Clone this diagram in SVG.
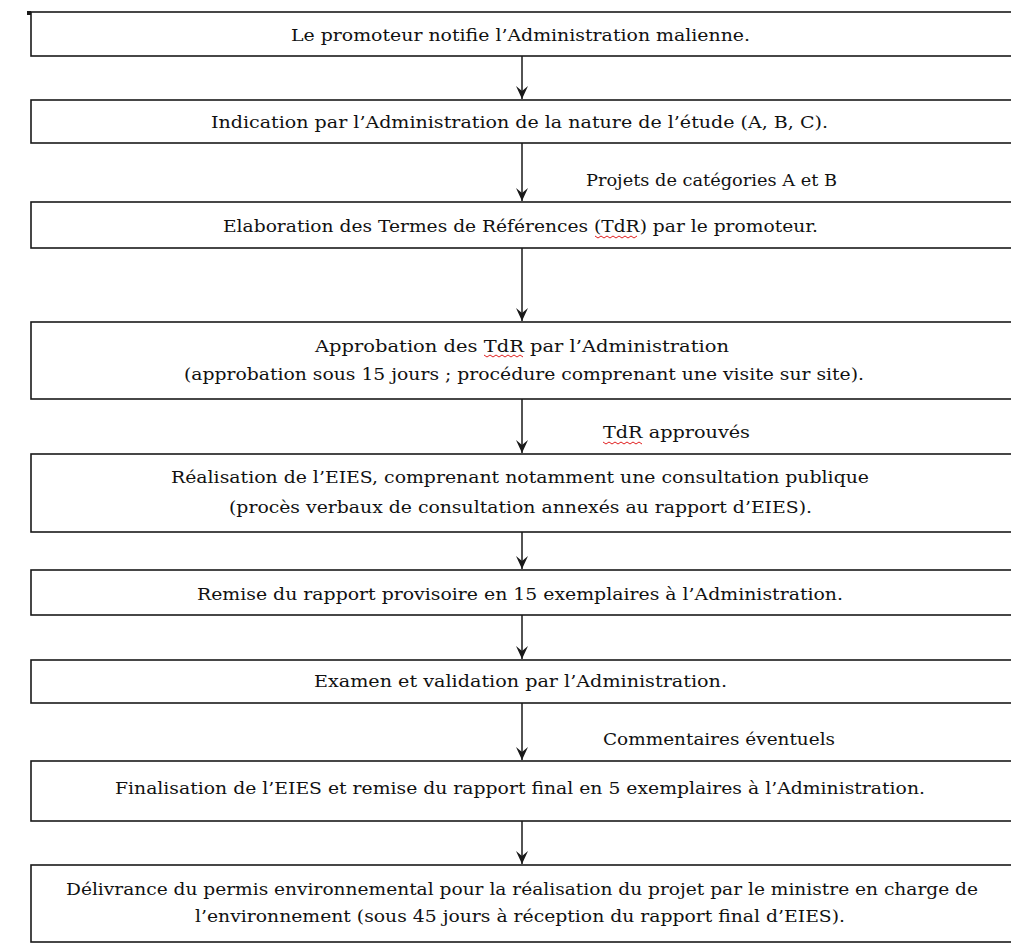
<svg xmlns="http://www.w3.org/2000/svg" width="1011" height="944" viewBox="0 0 1011 944">
<style>
.box{fill:#fff;stroke:#1a1a1a;stroke-width:1.6}
.t{font-family:"DejaVu Serif","Liberation Serif",serif;font-size:17.5px;fill:#111}
.lbl{font-family:"DejaVu Serif","Liberation Serif",serif;font-size:17.5px;fill:#111}
.c{stroke:#1a1a1a;stroke-width:1.5;fill:none}
.sq{stroke:#e02020;stroke-width:1;fill:none}
</style>
<defs>
<marker id="ah" markerWidth="14" markerHeight="12" refX="13" refY="6" orient="auto" markerUnits="userSpaceOnUse" viewBox="0 0 14 12">
<path d="M0,0 L13,6 L0,12 L5,6 Z" fill="#1a1a1a"/>
</marker>
</defs>
<rect x="0" y="0" width="1011" height="944" fill="#fff"/>
<rect x="27" y="11" width="4" height="4" fill="#1a1a1a"/>
<g id="connectors">
<line class="c" x1="522" y1="56" x2="522" y2="99" marker-end="url(#ah)"/>
<line class="c" x1="522" y1="143" x2="522" y2="201" marker-end="url(#ah)"/>
<line class="c" x1="522" y1="248" x2="522" y2="321" marker-end="url(#ah)"/>
<line class="c" x1="522" y1="399" x2="522" y2="453" marker-end="url(#ah)"/>
<line class="c" x1="522" y1="532" x2="522" y2="569" marker-end="url(#ah)"/>
<line class="c" x1="522" y1="615" x2="522" y2="659" marker-end="url(#ah)"/>
<line class="c" x1="522" y1="703" x2="522" y2="760" marker-end="url(#ah)"/>
<line class="c" x1="522" y1="821" x2="522" y2="864" marker-end="url(#ah)"/>
<text class="lbl" x="586" y="186" textLength="251" lengthAdjust="spacingAndGlyphs">Projets de catégories A et B</text>
<text class="lbl" x="603" y="438" textLength="147" lengthAdjust="spacingAndGlyphs">TdR approuvés</text>
<path class="sq" d="M603,442 l3,2 l3,-2 l3,2 l3,-2 l3,2 l3,-2 l3,2 l3,-2 l3,2 l3,-2 l3,2 l3,-2 l3,2"/>
<text class="lbl" x="603" y="745" textLength="232" lengthAdjust="spacingAndGlyphs">Commentaires éventuels</text>
</g>
<g id="n1">
<rect class="box" x="31" y="12" width="990" height="44"/>
<text class="t" x="291" y="41" textLength="459" lengthAdjust="spacingAndGlyphs">Le promoteur notifie l’Administration malienne.</text>
</g>
<g id="n2">
<rect class="box" x="31" y="100" width="990" height="43"/>
<text class="t" x="211" y="128" textLength="617" lengthAdjust="spacingAndGlyphs">Indication par l’Administration de la nature de l’étude (A, B, C).</text>
</g>
<g id="n3">
<rect class="box" x="31" y="202" width="990" height="46"/>
<text class="t" x="223" y="232" textLength="595" lengthAdjust="spacingAndGlyphs">Elaboration des Termes de Références (TdR) par le promoteur.</text>
<path class="sq" d="M595,236 l3,2 l3,-2 l3,2 l3,-2 l3,2 l3,-2 l3,2 l3,-2 l3,2 l3,-2 l3,2 l3,-2 l3,2 l3,-2"/>
</g>
<g id="n4">
<rect class="box" x="31" y="322" width="990" height="77"/>
<text class="t" x="315" y="352" textLength="414" lengthAdjust="spacingAndGlyphs">Approbation des TdR par l’Administration</text>
<text class="t" x="184" y="380" textLength="680" lengthAdjust="spacingAndGlyphs">(approbation sous 15 jours ; procédure comprenant une visite sur site).</text>
<path class="sq" d="M484,355 l3,2 l3,-2 l3,2 l3,-2 l3,2 l3,-2 l3,2 l3,-2 l3,2 l3,-2 l3,2 l3,-2 l3,2"/>
</g>
<g id="n5">
<rect class="box" x="31" y="454" width="990" height="78"/>
<text class="t" x="171" y="483" textLength="698" lengthAdjust="spacingAndGlyphs">Réalisation de l’EIES, comprenant notamment une consultation publique</text>
<text class="t" x="229" y="513" textLength="583" lengthAdjust="spacingAndGlyphs">(procès verbaux de consultation annexés au rapport d’EIES).</text>
</g>
<g id="n6">
<rect class="box" x="31" y="570" width="990" height="45"/>
<text class="t" x="197" y="600" textLength="646" lengthAdjust="spacingAndGlyphs">Remise du rapport provisoire en 15 exemplaires à l’Administration.</text>
</g>
<g id="n7">
<rect class="box" x="31" y="660" width="990" height="43"/>
<text class="t" x="314" y="687" textLength="413" lengthAdjust="spacingAndGlyphs">Examen et validation par l’Administration.</text>
</g>
<g id="n8">
<rect class="box" x="31" y="761" width="990" height="60"/>
<text class="t" x="115" y="794" textLength="810" lengthAdjust="spacingAndGlyphs">Finalisation de l’EIES et remise du rapport final en 5 exemplaires à l’Administration.</text>
</g>
<g id="n9">
<rect class="box" x="31" y="865" width="990" height="77"/>
<text class="t" x="66" y="895" textLength="912" lengthAdjust="spacingAndGlyphs">Délivrance du permis environnemental pour la réalisation du projet par le ministre en charge de</text>
<text class="t" x="195" y="922" textLength="650" lengthAdjust="spacingAndGlyphs">l’environnement (sous 45 jours à réception du rapport final d’EIES).</text>
</g>
</svg>
